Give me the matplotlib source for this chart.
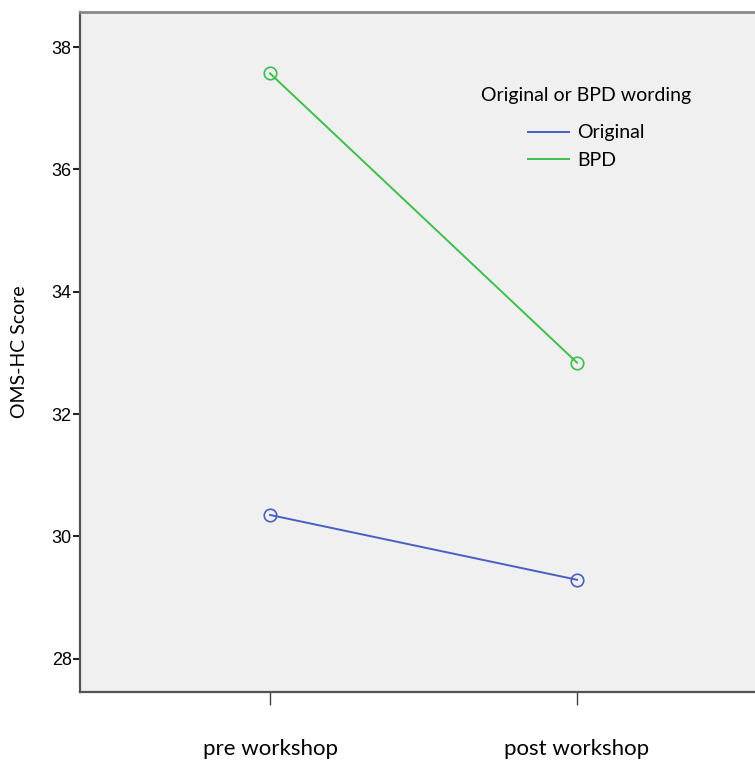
import matplotlib.pyplot as plt

# Moyennes OMS-HC par condition
phases = ['pre workshop', 'post workshop']
original = [30.35, 29.29]
bpd = [37.57, 32.84]

bleu = '#4a5fc1'
vert = '#3dbf4c'

fig = plt.figure(figsize=(7.55, 7.66), dpi=100)
ax = fig.add_axes([0.106, 0.097, 0.91, 0.887])
ax.set_facecolor('#f0f0f0')

x = range(len(phases))
ax.plot(x, original, '-', color=bleu, lw=1.4, marker='o', ms=9,
        mfc='none', mec=bleu, mew=1.2, label='Original')
ax.plot(x, bpd, '-', color=vert, lw=1.4, marker='o', ms=9,
        mfc='none', mec=vert, mew=1.2, label='BPD')

ax.set_xlim(-0.619, 1.619)
ax.set_ylim(27.46, 38.57)
ax.set_xticks(list(x))
ax.set_xticklabels(phases, fontsize=16, family='Lato')
ax.set_yticks([28, 30, 32, 34, 36, 38])
ax.tick_params(axis='y', labelsize=13, length=5, width=1.5, color='#222222', pad=1)
ax.tick_params(axis='x', length=9, width=1, color='#444444', pad=25)
for t in ax.get_yticklabels():
    t.set_family('Liberation Sans')

ax.set_ylabel('OMS-HC Score', fontsize=14, family='Lato', labelpad=17)

for s in ['left', 'bottom']:
    ax.spines[s].set_color('#555555')
    ax.spines[s].set_linewidth(1.6)
ax.spines['top'].set_color('#888888')
ax.spines['top'].set_linewidth(2)
ax.spines['right'].set_visible(False)

leg = ax.legend(title='Original or BPD wording', loc='upper center',
                bbox_to_anchor=(0.737, 0.905), frameon=False, borderpad=0,
                prop={'family': 'Lato', 'size': 14}, handlelength=2.1,
                handletextpad=0.4, labelspacing=0.55)
leg.get_title().set_family('Lato')
leg.get_title().set_fontsize(14)
leg._legend_box.sep = 15
for h in leg.legend_handles:
    h.set_marker('')

plt.savefig('out.png', dpi=100)
